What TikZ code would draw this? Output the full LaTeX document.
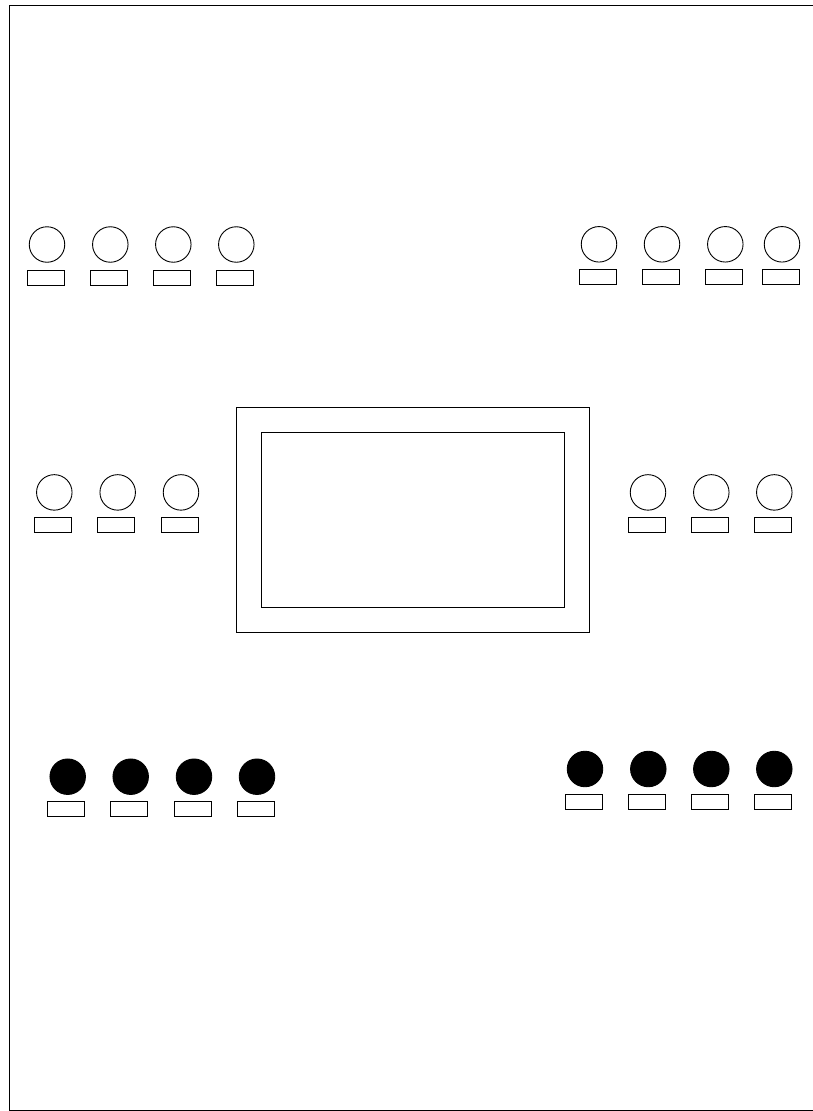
\documentclass[tikz,border=0pt]{standalone}
\begin{document}
\begin{tikzpicture}[x=1pt,y=-1pt,
  knob/.style={circle,draw=black,line width=0.9pt,minimum size=35.5pt,inner sep=0pt},
  knobfill/.style={knob,fill=black},
  tag/.style={rectangle,draw=black,line width=0.9pt,minimum width=37pt,minimum height=15pt,inner sep=0pt},
  frame/.style={draw=black,line width=1pt}]
\useasboundingbox (0,0) rectangle (812,1111);
% outer frame
\draw[frame] (9.5,5) -- (820,5);
\draw[frame] (9.5,5) -- (9.5,1110) -- (820,1110);
% screen
\node[rectangle,draw=black,line width=0.9pt,minimum width=353pt,minimum height=225pt,inner sep=0pt] (screenout) at (413.3,519.8) {};
\node[rectangle,draw=black,line width=0.9pt,minimum width=303pt,minimum height=175pt,inner sep=0pt] (screenin) at (413.2,520.3) {};
% top-left
\foreach \x [count=\i] in {47,110.3,173.3,236.3}{
  \node[knob] (tlk\i) at (\x,244.5) {};
  \node[tag] (tlt\i) at (\x-1.5,277.8) {};
}
% top-right
\foreach \x [count=\i] in {599,662,725.3,782}{
  \node[knob] (trk\i) at (\x,244.3) {};
  \node[tag] (trt\i) at (\x-1.5,277.3) {};
}
% middle-left
\foreach \x [count=\i] in {54.3,117.7,181}{
  \node[knob] (mlk\i) at (\x,492.4) {};
  \node[tag] (mlt\i) at (\x-1.5,525) {};
}
% middle-right
\foreach \x [count=\i] in {648,711.3,774.3}{
  \node[knob] (mrk\i) at (\x,492.4) {};
  \node[tag] (mrt\i) at (\x-1.5,525) {};
}
% bottom-left
\foreach \x [count=\i] in {67.7,130.7,194,257}{
  \node[knobfill] (blk\i) at (\x,776.7) {};
  \node[tag] (blt\i) at (\x-1.5,808.8) {};
}
% bottom-right
\foreach \x [count=\i] in {585,648.3,711.3,774.3}{
  \node[knobfill] (brk\i) at (\x,769) {};
  \node[tag] (brt\i) at (\x-1.5,801.7) {};
}
\end{tikzpicture}
\end{document}
